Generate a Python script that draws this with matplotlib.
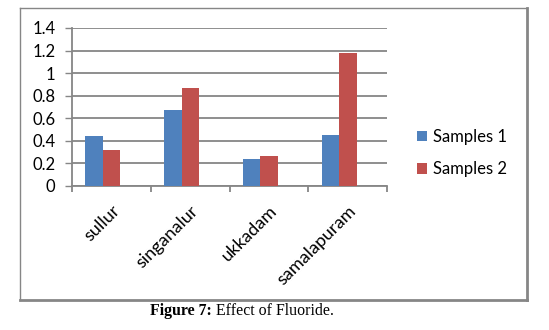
import numpy as np
import matplotlib.pyplot as plt
from matplotlib.lines import Line2D

# Fluoride levels at each site
sites = ['sullur', 'singanalur', 'ukkadam', 'samalapuram']
samples_1 = [0.44, 0.67, 0.24, 0.45]
samples_2 = [0.32, 0.87, 0.27, 1.18]
y_ticks = [0, 0.2, 0.4, 0.6, 0.8, 1, 1.2, 1.4]
y_labels = ['0', '0.2', '0.4', '0.6', '0.8', '1', '1.2', '1.4']

blue = '#4F81BD'
red = '#C0504D'
grid_gray = '#868686'

W, H = 549, 330
fig = plt.figure(figsize=(W / 100, H / 100), dpi=100)
plt.rcParams['font.family'] = ['Lato', 'DejaVu Sans']

ax = fig.add_axes([72 / W, 1 - 186 / H, (387 - 72) / W, (186 - 28) / H])

x = np.arange(len(sites))
width = 0.222
shift = -0.108
ax.bar(x + shift - width / 2, samples_1, width, color=blue, label='Samples 1', zorder=3)
ax.bar(x + shift + width / 2, samples_2, width, color=red, label='Samples 2', zorder=3)

ax.set_xlim(-0.5, len(sites) - 0.5)
ax.set_ylim(0, 1.4)
ax.set_yticks(y_ticks)
ax.set_yticklabels(y_labels, fontsize=12)
ax.yaxis.grid(True, color=grid_gray, linewidth=1.3, zorder=0)
ax.tick_params(axis='y', direction='out', length=5, color=grid_gray, width=1, pad=7)

ax.set_xticks(x)
ax.set_xticklabels(sites, rotation=45, ha='right', rotation_mode='anchor', fontsize=13)
ax.tick_params(axis='x', which='major', length=0, pad=12)
ax.set_xticks(np.arange(-0.5, len(sites)), minor=True)
ax.tick_params(axis='x', which='minor', direction='out', length=4, color=grid_gray, width=1.3)

for side in ['top', 'right']:
    ax.spines[side].set_visible(False)
for side in ['left', 'bottom']:
    ax.spines[side].set_color(grid_gray)
    ax.spines[side].set_linewidth(1.3)

ax.legend(loc='center left', bbox_to_anchor=(410 / W, 1 - 153 / H), bbox_transform=fig.transFigure,
          frameon=False, fontsize=12, handlelength=0.6, handleheight=0.6,
          handletextpad=0.4, labelspacing=1.0, borderaxespad=0)

# chart frame
fl, fr, ft, fb = 19.5 / W, 527 / W, 1 - 7.5 / H, 1 - 299.5 / H
fig.add_artist(Line2D([fl, fr], [ft, ft], color=grid_gray, lw=1, transform=fig.transFigure))
fig.add_artist(Line2D([fl, fl], [fb, ft], color=grid_gray, lw=1, transform=fig.transFigure))
fig.add_artist(Line2D([fr, fr], [fb, ft], color=grid_gray, lw=2, transform=fig.transFigure))
fig.add_artist(Line2D([fl, fr], [fb, fb], color=grid_gray, lw=2, transform=fig.transFigure))

# caption
cap_y = 1 - 311 / H
t1 = fig.text(150 / W, cap_y, 'Figure 7:', fontsize=11.4, fontweight='bold',
              family='Liberation Serif', va='center', ha='left')
fig.canvas.draw()
bb = t1.get_window_extent()
fig.text((bb.x1 + 4) / W, cap_y, 'Effect of Fluoride.', fontsize=11.4,
         family='Liberation Serif', va='center', ha='left')

fig.savefig('out.png', dpi=100)
